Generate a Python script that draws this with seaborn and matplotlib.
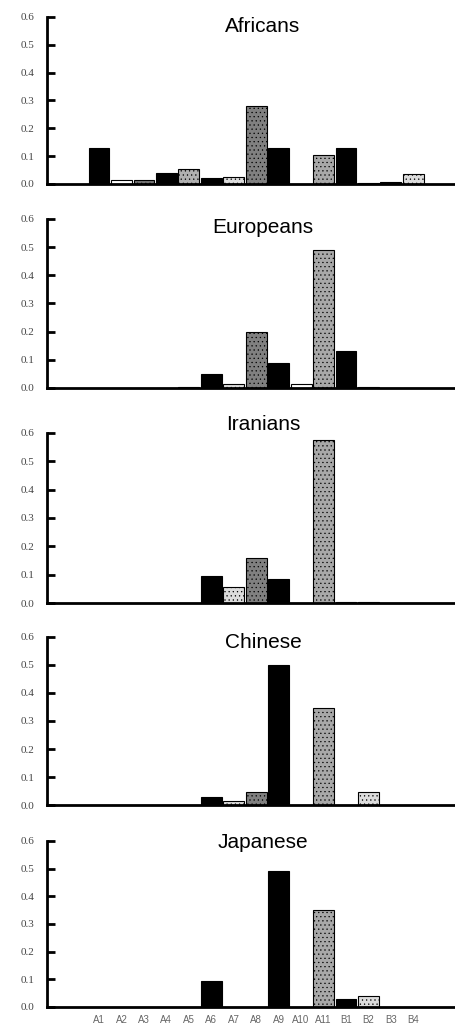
import matplotlib
matplotlib.use("Agg")
import matplotlib.pyplot as plt
import seaborn as sns
import pandas as pd

# categories (x axis)
CATEGORIES = ["A1", "A2", "A3", "A4", "A5", "A6", "A7", "A8", "A9", "A10",
              "A11", "B1", "B2", "B3", "B4"]

# frequencies per population
AFRICANS = [0.13, 0.015, 0.015, 0.04, 0.055, 0.02, 0.025, 0.28, 0.13, 0.0,
            0.105, 0.13, 0.002, 0.008, 0.035]
EUROPEANS = [0.0, 0.0, 0.0, 0.0, 0.002, 0.05, 0.015, 0.20, 0.09, 0.015,
             0.49, 0.13, 0.005, 0.0, 0.0]
IRANIANS = [0.0, 0.0, 0.0, 0.0, 0.0, 0.095, 0.055, 0.16, 0.085, 0.0,
            0.575, 0.005, 0.005, 0.0, 0.0]
CHINESE = [0.0, 0.0, 0.0, 0.0, 0.0, 0.03, 0.015, 0.045, 0.50, 0.0,
           0.345, 0.0, 0.045, 0.0, 0.0]
JAPANESE = [0.0, 0.0, 0.0, 0.0, 0.0, 0.095, 0.0, 0.0, 0.49, 0.0,
            0.35, 0.03, 0.04, 0.0, 0.0]

POPULATIONS = ["Africans", "Europeans", "Iranians", "Chinese", "Japanese"]
VALUES = [AFRICANS, EUROPEANS, IRANIANS, CHINESE, JAPANESE]

# fill style per category (black / white / stippled grays)
FILLS = ["#000000", "#ffffff", "#777777", "#000000", "#b0b0b0", "#000000",
         "#dcdcdc", "#808080", "#000000", "#ffffff", "#a8a8a8", "#000000",
         "#dcdcdc", "#000000", "#dcdcdc"]
HATCHES = ["", "", "....", "", "....", "", "....", "....", "", "",
           "....", "", "....", "", "...."]

sns.set_style("white")
plt.rcParams["font.family"] = ["Liberation Serif", "DejaVu Serif"]
plt.rcParams["hatch.linewidth"] = 0.4
plt.rcParams["hatch.color"] = "#333333"

fig = plt.figure(figsize=(4.56, 10.25), dpi=100)

# panel layout [left, bottom, width, height] and title height in axes coords
panel_boxes = [
    [0.103, 0.8205, 0.897, 0.163],
    [0.103, 0.6215, 0.897, 0.165],
    [0.103, 0.4117, 0.897, 0.166],
    [0.103, 0.2146, 0.897, 0.164],
    [0.103, 0.0176, 0.897, 0.162],
]
title_y = [0.94, 0.947, 1.047, 0.964, 0.988]

for i, (name, vals) in enumerate(zip(POPULATIONS, VALUES)):
    ax = fig.add_axes(panel_boxes[i])
    df = pd.DataFrame({"allele": CATEGORIES, "freq": vals})
    sns.barplot(data=df, x="allele", y="freq", hue="allele",
                palette=FILLS, legend=False, ax=ax,
                edgecolor="black", linewidth=0.8, width=0.93, saturation=1)
    for patch, h in zip(ax.patches, HATCHES):
        patch.set_hatch(h)

    ax.set_xlim(-2.32, 15.9)
    ax.set_ylim(0, 0.6)
    ax.set_yticks([0.0, 0.1, 0.2, 0.3, 0.4, 0.5, 0.6])
    ax.set_yticklabels([f"{t:.1f}" for t in ax.get_yticks()],
                       fontsize=8, color="#444444")
    ax.tick_params(axis="y", left=True, direction="in", length=6, width=2,
                   pad=9, color="black")
    ax.set_xlabel("")
    ax.set_ylabel("")

    for s in ["top", "right"]:
        ax.spines[s].set_visible(False)
    for s in ["left", "bottom"]:
        ax.spines[s].set_linewidth(2)
        ax.spines[s].set_color("black")

    if i == len(POPULATIONS) - 1:
        ax.set_xticks(range(len(CATEGORIES)))
        ax.set_xticklabels(CATEGORIES, fontsize=7, color="#666666",
                           family=["Liberation Sans", "DejaVu Sans"])
        ax.tick_params(axis="x", bottom=False, length=0, pad=6)
    else:
        ax.set_xticks([])

    ax.text(0.528, title_y[i], name, transform=ax.transAxes,
            ha="center", va="center", fontsize=15, color="black",
            family=["Liberation Sans", "DejaVu Sans"], clip_on=False)

fig.savefig("out.png", dpi=100)
